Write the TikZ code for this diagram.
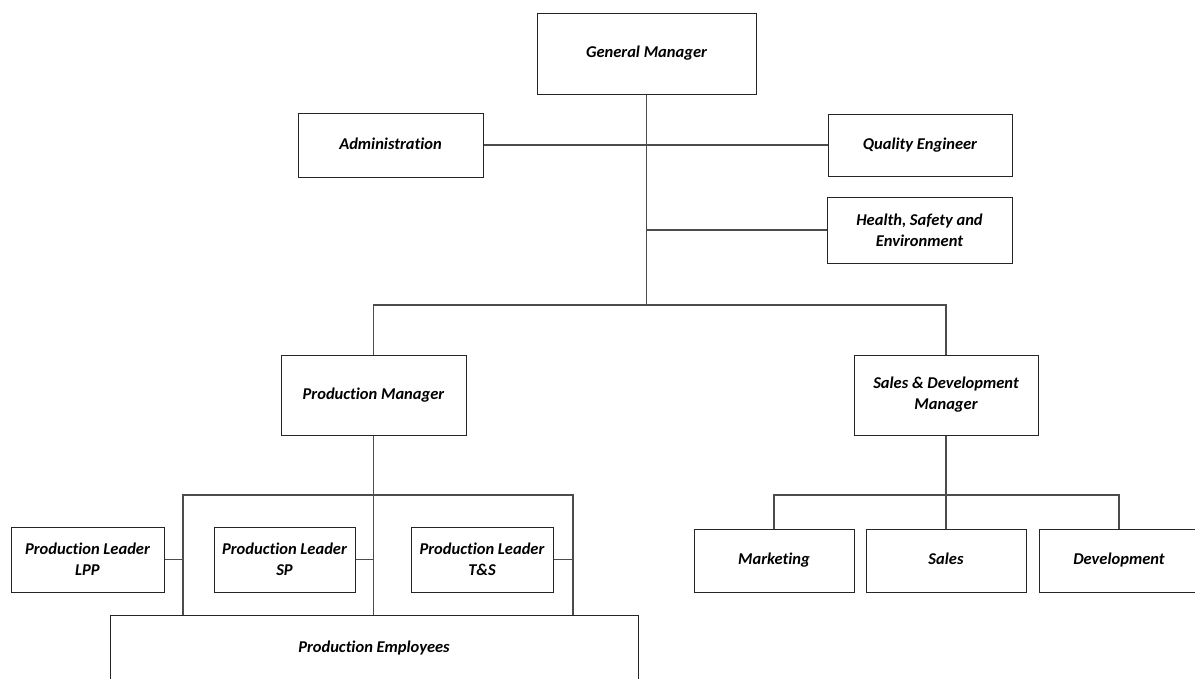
\documentclass[tikz,border=0pt]{standalone}
\usepackage{fontspec}
\setmainfont{Carlito}[Ligatures={NoCommon}]
\usepackage{tikz}
\usepackage{xcolor}

\begin{document}
\begin{tikzpicture}[x=1pt,y=-1pt,
    box/.style={draw=black!85,line width=1pt,fill=white,inner sep=0pt,align=center,
      font=\fontsize{16.5}{21}\selectfont\bfseries\itshape},
    oneline/.style={box,text height=11.5pt,text depth=3.5pt},
    link/.style={draw=black!70,line width=1.5pt}]
  \useasboundingbox (0,0) rectangle (1195,678);
  \clip (0,0) rectangle (1195,678);

  \node[oneline,minimum width=219pt,minimum height=81pt] (gm)  at (646.5,53.5) {General Manager};
  \node[oneline,minimum width=185pt,minimum height=64pt] (adm) at (390.5,145) {Administration};
  \node[oneline,minimum width=184pt,minimum height=62pt] (qe)  at (920,145) {Quality Engineer};
  \node[box,minimum width=185pt,minimum height=66pt] (hse) at (919.5,230) {Health, Safety and\\Environment};

  \node[oneline,minimum width=185pt,minimum height=80pt] (pm)  at (373.5,395) {Production Manager};
  \node[box,minimum width=184pt,minimum height=80pt] (sdm) at (946,395) {Sales \& Development\\Manager};

  \node[box,minimum width=153pt,minimum height=65pt] (lpp) at (87.5,559.5) {Production Leader\\LPP};
  \node[box,minimum width=141pt,minimum height=65pt] (sp)  at (284.5,559.5) {Production Leader\\SP};
  \node[box,minimum width=142pt,minimum height=65pt] (ts)  at (482,559.5) {Production Leader\\T\&S};
  \node[oneline,minimum width=528pt,minimum height=66pt] (pe)  at (374,648) {Production Employees};

  \node[oneline,minimum width=160pt,minimum height=63pt] (mkt) at (774,560.5) {Marketing};
  \node[oneline,minimum width=160pt,minimum height=63pt] (sal) at (946,560.5) {Sales};
  \node[oneline,minimum width=160pt,minimum height=63pt] (dev) at (1119,560.5) {Development};

  \coordinate (trunk) at (646.5,305);
  \coordinate (pl) at (183,495);
  \coordinate (pr) at (573,495);
  \coordinate (sbar) at (946,495);

  % top level
  \draw[link] (gm.south) -- (trunk);
  \draw[link] (adm.east) -- (qe.west);
  \draw[link] (hse.west) -- (hse.west -| gm.south);
  \draw[link] (pm.north) |- (trunk) -| (sdm.north);

  % sales branch
  \draw[link] (sdm.south) -- (sal.north);
  \draw[link] (mkt.north) |- (sbar) -| (dev.north);

  % production branch
  \draw[link] (pl |- pe.north) |- (pr) -- (pr |- pe.north);
  \draw[link] (pm.south) -- (pm.south |- pe.north);
  \draw[link] (lpp.east) -- (lpp.east -| pl);
  \draw[link] (sp.east) -- (sp.east -| pm.south);
  \draw[link] (ts.east) -- (ts.east -| pr);
\end{tikzpicture}
\end{document}
